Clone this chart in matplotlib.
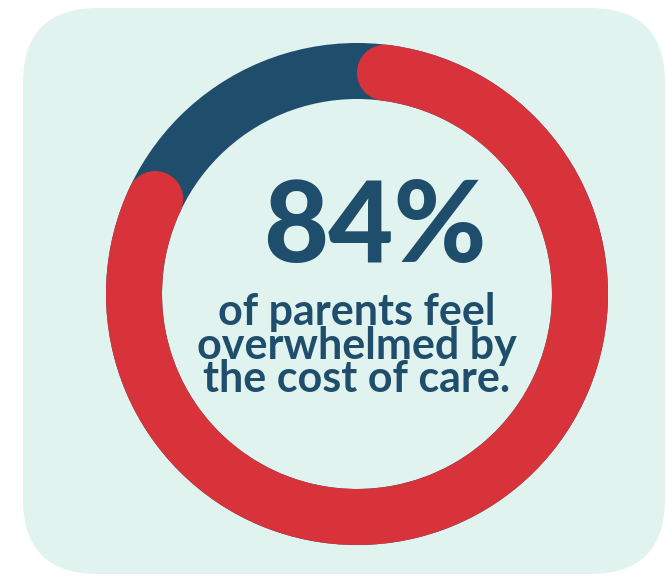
import numpy as np
import matplotlib
matplotlib.use("Agg")
import matplotlib.pyplot as plt
from matplotlib.patches import Wedge, Circle, FancyBboxPatch

# data
labels = ["Overwhelmed", "Not overwhelmed"]
values = [84, 16]
headline = "84%"
caption = ["of parents feel", "overwhelmed by", "the cost of care."]

RED = "#d8333b"
BLUE = "#1f4d6c"
BG = "#e0f3ee"

W, H = 666, 576
fig = plt.figure(figsize=(W / 100, H / 100), dpi=100)
ax = fig.add_axes([0, 0, 1, 1])
ax.set_xlim(0, W)
ax.set_ylim(H, 0)
ax.axis("off")

# card
ax.add_patch(FancyBboxPatch((23, 8), 642, 566, boxstyle="round,pad=0,rounding_size=75",
                            fc=BG, ec="none"))

# ring
cx, cy, r, w = 357, 294, 251, 56
ax.add_patch(Wedge((cx, cy), r, 0, 360, width=w, fc=BLUE, ec="none"))

rmid = r - w / 2
cap = np.degrees((w / 2) / rmid)
start = -90
end = start + 360 * values[0] / sum(values)
a0, a1 = start + cap, end - cap
ax.add_patch(Wedge((cx, cy), r, a0, a1, width=w, fc=RED, ec="none"))
for a in (a0, a1):
    t = np.radians(a)
    ax.add_patch(Circle((cx + rmid * np.cos(t), cy + rmid * np.sin(t)), w / 2, fc=RED, ec="none"))

# text
ax.text(375, 262, headline, ha="center", va="baseline", fontsize=81,
        fontweight="black", family="Lato", color=BLUE)
ax.text(357, 392, "\n".join(caption), ha="center", va="baseline", multialignment="center",
        fontsize=31, linespacing=0.8, fontweight="bold", family="Lato", color=BLUE)

fig.savefig("out.png", dpi=100, facecolor="white")
